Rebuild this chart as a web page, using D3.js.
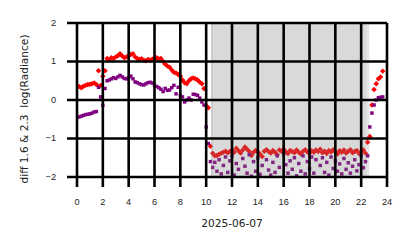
<!DOCTYPE html>
<html>
<head>
<meta charset="utf-8">
<script src="https://cdn.jsdelivr.net/npm/d3@7"></script>
<style>
  body { margin: 0; background: #fff; }
  svg { display: block; font-family: "DejaVu Sans", sans-serif; }
  .grid line { stroke: #000; stroke-width: 2.6px; }
</style>
</head>
<body>
<svg id="chart" width="414" height="248"></svg>
<script>
// samples every 10 minutes starting 00:00
const stepMinutes = 10;

const diff16 = [
  0.33, 0.35, 0.32, 0.36, 0.38, 0.40, 0.41, 0.42, 0.44, 0.40,
  0.76, 0.38, 0.62, 0.76, 1.08, 1.05, 1.10, 1.08, 1.12, 1.15,
  1.20, 1.14, 1.10, 1.12, 1.15, 1.18, 1.20, 1.12, 1.08, 1.05,
  1.07, 1.03, 1.02, 1.05, 1.04, 1.06, 1.08, 1.10, 1.07, 1.08,
  1.00, 0.93, 0.88, 0.85, 0.78, 0.72, 0.70, 0.66, 0.62, 0.52,
  0.45, 0.42, 0.50, 0.55, 0.57, 0.55, 0.52, 0.47, 0.42, 0.30,
  -0.15, -0.20, -1.20, -1.38, -1.45, -1.44, -1.41, -1.38, -1.36, -1.33,
  -1.37, -1.34, -1.30, -1.36, -1.25, -1.32, -1.38, -1.30, -1.22, -1.28,
  -1.34, -1.44, -1.36, -1.31, -1.35, -1.40, -1.47, -1.33, -1.29, -1.34,
  -1.38, -1.31, -1.36, -1.42, -1.30, -1.33, -1.28, -1.35, -1.39, -1.31,
  -1.34, -1.37, -1.30, -1.36, -1.40, -1.33, -1.29, -1.35, -1.38, -1.32,
  -1.36, -1.30, -1.34, -1.28, -1.37, -1.33, -1.39, -1.31, -1.35, -1.29,
  -1.34, -1.40, -1.32, -1.36, -1.30, -1.38, -1.33, -1.29, -1.37, -1.34,
  -1.31, -1.39, -1.35, -1.30, -1.38, -1.10, -0.95, -0.13, 0.27, 0.42,
  0.55, 0.60, 0.75
];

const diff23 = [
  -0.45, -0.44, -0.42, -0.40, -0.38, -0.37, -0.36, -0.34, -0.31, -0.30,
  0.33, 0.08, -0.14, 0.30, 0.50, 0.52, 0.55, 0.58, 0.56, 0.60,
  0.64, 0.60, 0.56, 0.55, 0.58, 0.62, 0.55, 0.47, 0.45, 0.42,
  0.40, 0.39, 0.42, 0.45, 0.46, 0.44, 0.38, 0.35, 0.32, 0.28,
  0.22, 0.30, 0.25, 0.26, 0.32, 0.38, 0.16, 0.33, 0.12, 0.08,
  -0.05, 0.00, 0.05, 0.00, 0.15, 0.14, 0.12, 0.05, -0.05, -0.13,
  -0.70, -1.13, -1.60, -1.75, -1.62, -1.85, -1.55, -1.92, -1.70, -1.48,
  -1.88, -1.58, -1.45, -1.95, -1.65, -1.80, -2.05, -1.52, -1.72, -1.90,
  -1.42, -1.98, -1.60, -1.85, -1.50, -1.93, -1.70, -2.08, -1.55, -1.82,
  -1.95, -1.62, -1.88, -1.45, -1.75, -2.02, -1.40, -1.68, -1.90, -1.58,
  -1.80, -1.50, -1.97, -1.65, -1.85, -1.45, -1.92, -1.60, -1.78, -1.48,
  -1.90, -1.55, -2.05, -1.70, -1.50, -1.88, -1.62, -1.95, -1.48, -1.78,
  -1.58, -1.85, -1.66, -1.92, -1.52, -1.80, -1.63, -1.90, -1.72, -1.55,
  -1.84, -1.68, -1.45, -1.76, -1.60, -1.45, -0.70, -0.34, -0.13, 0.00,
  0.06, 0.07, 0.08
];

const xTicks = [0, 2, 4, 6, 8, 10, 12, 14, 16, 18, 20, 22, 24];
const yTicks = [-2, -1, 0, 1, 2];
const nightSpan = [10.38, 22.64];

const width = 414;
const height = 248;
const margin = { top: 23, right: 27, bottom: 71, left: 77 };
const innerW = width - margin.left - margin.right;
const innerH = height - margin.top - margin.bottom;

const svg = d3.select('#chart');
const g = svg.append('g').attr('transform', `translate(${margin.left},${margin.top})`);

const x = d3.scaleLinear().domain([0, 24]).range([0, innerW]);
const y = d3.scaleLinear().domain([-2, 2]).range([innerH, 0]);

const hourOf = (i) => (i * stepMinutes) / 60;

g.append('clipPath').attr('id', 'plot-clip')
  .append('rect').attr('width', innerW).attr('height', innerH);

const marks = g.append('g').attr('clip-path', 'url(#plot-clip)');

// red diamonds
marks.append('g').selectAll('path')
  .data(diff16)
  .join('path')
  .attr('d', d3.symbol(d3.symbolSquare, 15))
  .attr('transform', (d, i) => `translate(${x(hourOf(i))},${y(d)}) rotate(45)`)
  .attr('fill', '#ff0000');

// purple squares
marks.append('g').selectAll('path')
  .data(diff23)
  .join('path')
  .attr('d', d3.symbol(d3.symbolSquare, 12))
  .attr('transform', (d, i) => `translate(${x(hourOf(i))},${y(d)})`)
  .attr('fill', '#800080');

// night shading sits over the points
const shade = g.append('g').attr('fill', '#808080');
shade.append('rect')
  .attr('x', x(nightSpan[0])).attr('width', x(nightSpan[1]) - x(nightSpan[0]))
  .attr('height', innerH).attr('opacity', 0.2);
shade.append('rect')
  .attr('x', x(nightSpan[0])).attr('width', x(22.42) - x(nightSpan[0]))
  .attr('height', innerH).attr('opacity', 0.125);
shade.append('rect')
  .attr('x', x(nightSpan[0])).attr('width', x(10.5) - x(nightSpan[0]))
  .attr('height', innerH).attr('opacity', 0.19);

// grid + long ticks
const xAxis = d3.axisBottom(x).tickValues(xTicks).tickSize(innerH + 10).tickPadding(11).offset(0);
const yAxis = d3.axisLeft(y).tickValues(yTicks).tickSize(innerW + 10).tickPadding(11).offset(0)
  .tickFormat((d) => (d < 0 ? '\u2212' + Math.abs(d) : d));

const gx = g.append('g').attr('class', 'grid').call(xAxis);
const gy = g.append('g').attr('class', 'grid').attr('transform', `translate(${innerW},0)`).call(yAxis);

[gx, gy].forEach((ax) => {
  ax.select('.domain').remove();
  ax.selectAll('text').attr('fill', '#222').style('font-size', '9.2px');
});

g.append('text')
  .attr('x', innerW / 2)
  .attr('y', 227 - margin.top)
  .attr('text-anchor', 'middle')
  .attr('fill', '#222')
  .style('font-size', '10.6px')
  .text('2025-06-07');

g.append('text')
  .attr('transform', `translate(${28 - margin.left},${109 - margin.top}) rotate(-90)`)
  .attr('text-anchor', 'middle')
  .attr('fill', '#222')
  .style('font-size', '10.6px')
  .style('white-space', 'pre')
  .text('diff 1.6 & 2.3  log(Radiance)');
</script>
</body>
</html>
